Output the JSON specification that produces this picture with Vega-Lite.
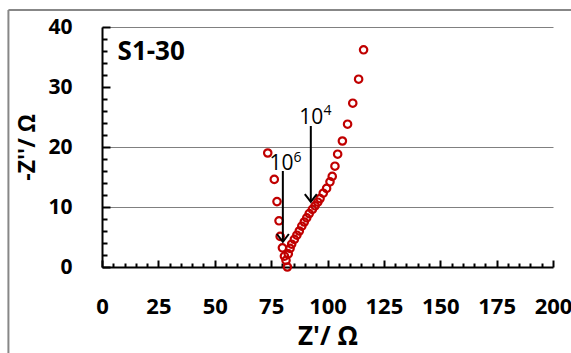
{
  "$schema": "https://vega.github.io/schema/vega-lite/v6.json",
  "width": 451,
  "height": 240,
  "autosize": {"type": "none"},
  "padding": {"left": 102, "top": 27, "right": 18, "bottom": 86},
  "background": "white",
  "config": {
    "view": {"stroke": null},
    "font": "Open Sans"
  },
  "datasets": {
    "pts": [
      {"x": 73.5, "y": 19.0}, {"x": 76.4, "y": 14.6}, {"x": 77.6, "y": 10.9}, {"x": 78.5, "y": 7.7},
      {"x": 79.0, "y": 5.1}, {"x": 80.0, "y": 3.2}, {"x": 80.9, "y": 1.8}, {"x": 81.6, "y": 1.1},
      {"x": 82.2, "y": 0.0}, {"x": 82.6, "y": 2.2}, {"x": 83.4, "y": 3.1}, {"x": 84.1, "y": 3.8},
      {"x": 85.3, "y": 4.6}, {"x": 86.4, "y": 5.3}, {"x": 87.5, "y": 6.0}, {"x": 88.6, "y": 6.8},
      {"x": 89.7, "y": 7.5}, {"x": 90.8, "y": 8.2}, {"x": 91.9, "y": 8.9}, {"x": 93.3, "y": 9.6},
      {"x": 94.5, "y": 10.2}, {"x": 95.7, "y": 10.8}, {"x": 96.7, "y": 11.4}, {"x": 98.1, "y": 12.3},
      {"x": 99.6, "y": 13.1}, {"x": 101.1, "y": 14.2}, {"x": 102.1, "y": 15.1}, {"x": 103.3, "y": 16.8},
      {"x": 104.5, "y": 18.8}, {"x": 106.6, "y": 21.0}, {"x": 108.9, "y": 23.8}, {"x": 111.2, "y": 27.3},
      {"x": 113.8, "y": 31.3}, {"x": 116.0, "y": 36.2}
    ],
    "arrows": [
      {"x": 80.2, "y": 16.0, "y2": 4.4, "tip": 4.2},
      {"x": 92.6, "y": 23.5, "y2": 11.0, "tip": 10.85}
    ],
    "labels": [
      {"x": 74.3, "y": 16.1, "t": "10"},
      {"x": 87.5, "y": 23.8, "t": "10"}
    ],
    "sups": [
      {"x": 84.9, "y": 17.5, "t": "6"},
      {"x": 98.2, "y": 25.3, "t": "4"}
    ],
    "tag": [
      {"x": 6.9, "y": 34.5, "t": "S1-30"}
    ],
    "frame": [
      {"x": -41.5, "y": 42.85, "x2": 215, "y2": 42.85},
      {"x": -41.5, "y": 42.85, "x2": -41.5, "y2": -16}
    ]
  },
  "encoding": {
    "x": {
      "field": "x", "type": "quantitative",
      "scale": {"domain": [0, 200], "nice": false, "zero": false},
      "axis": {
        "values": [0,5,10,15,20,25,30,35,40,45,50,55,60,65,70,75,80,85,90,95,100,105,110,115,120,125,130,135,140,145,150,155,160,165,170,175,180,185,190,195,200],
        "labelExpr": "datum.value % 25 === 0 ? datum.label : ''",
        "tickSize": {"condition": {"test": "datum.value % 25 === 0", "value": -7}, "value": -4},
        "tickColor": "black", "tickWidth": 2,
        "domainColor": "black", "domainWidth": 2,
        "grid": false,
        "labelFont": "Open Sans", "labelFontWeight": "bold", "labelFontSize": 22, "labelColor": "black",
        "labelPadding": 36, "labelBaseline": "top", "labelFlush": false, "labelOverlap": false,
        "title": "Z'/ Ω",
        "titleFont": "Open Sans", "titleFontWeight": "bold", "titleFontSize": 26, "titleColor": "black",
        "titleX": 225.5, "titleY": 77, "titleAlign": "center", "titleBaseline": "alphabetic"
      }
    },
    "y": {
      "field": "y", "type": "quantitative",
      "scale": {"domain": [0, 40], "nice": false, "zero": false},
      "axis": {
        "values": [0,2,4,6,8,10,12,14,16,18,20,22,24,26,28,30,32,34,36,38,40],
        "labelExpr": "datum.value % 10 === 0 ? datum.label : ''",
        "tickSize": {"condition": {"test": "datum.value % 10 === 0", "value": -8}, "value": -5},
        "tickColor": "black", "tickWidth": 2,
        "domainColor": "black", "domainWidth": 2,
        "grid": true, "gridColor": "#808080", "gridWidth": 1,
        "gridOpacity": {"condition": {"test": "datum.value === 10 || datum.value === 20 || datum.value === 40", "value": 1}, "value": 0},
        "labelFont": "Open Sans", "labelFontWeight": "bold", "labelFontSize": 21, "labelColor": "black",
        "labelPadding": 38, "labelFlush": false, "labelOverlap": false,
        "title": "-Z''/ Ω",
        "titleFont": "Open Sans", "titleFontWeight": "bold", "titleFontSize": 23, "titleColor": "black",
        "titleX": -68, "titleY": 120, "titleAngle": -90, "titleAlign": "center", "titleBaseline": "alphabetic"
      }
    }
  },
  "layer": [
    {
      "data": {"name": "frame"},
      "mark": {"type": "rule", "color": "#878787", "strokeWidth": 2, "clip": false},
      "encoding": {"x2": {"field": "x2"}, "y2": {"field": "y2"}}
    },
    {
      "data": {"name": "pts"},
      "mark": {"type": "point", "shape": "circle", "filled": false, "color": "#c00000", "strokeWidth": 2.2, "size": 55, "opacity": 1}
    },
    {
      "data": {"name": "arrows"},
      "mark": {"type": "rule", "color": "black", "strokeWidth": 2},
      "encoding": {"y2": {"field": "y2"}}
    },
    {
      "data": {"name": "arrows"},
      "mark": {"type": "point", "shape": "M-1,-1.3L0,0L1,-1.3", "filled": false, "color": "black", "strokeWidth": 2, "size": 144, "opacity": 1},
      "encoding": {"y": {"field": "tip", "type": "quantitative"}}
    },
    {
      "data": {"name": "labels"},
      "mark": {"type": "text", "font": "Open Sans", "fontSize": 21, "align": "left", "baseline": "alphabetic", "color": "black"},
      "encoding": {"text": {"field": "t"}}
    },
    {
      "data": {"name": "sups"},
      "mark": {"type": "text", "font": "Open Sans", "fontSize": 14, "align": "left", "baseline": "alphabetic", "color": "black"},
      "encoding": {"text": {"field": "t"}}
    },
    {
      "data": {"name": "tag"},
      "mark": {"type": "text", "font": "Open Sans", "fontWeight": "bold", "fontSize": 26, "align": "left", "baseline": "alphabetic", "color": "black"},
      "encoding": {"text": {"field": "t"}}
    }
  ]
}
